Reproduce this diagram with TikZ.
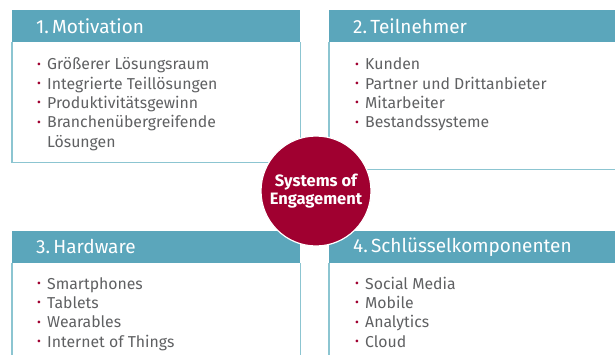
\documentclass[tikz,border=0pt]{standalone}
\usepackage{fontspec}
\setmainfont{Fira Sans}
\usepackage{graphicx}
\usetikzlibrary{positioning}
\definecolor{headcolor}{RGB}{91,166,187}
\definecolor{framecolor}{RGB}{140,197,209}
\definecolor{corecolor}{RGB}{160,0,48}
\definecolor{itemcolor}{RGB}{95,96,98}
\newcommand{\listdot}{\makebox[10pt][l]{\textcolor{corecolor}{\raisebox{.2ex}{\scalebox{.75}{\textbullet}}}}}
\tikzset{
    % Header bars
    headnode/.style={
        fill=headcolor, text=white, anchor=north west,
        font=\fontsize{19}{22}\selectfont,
        minimum height=31.5pt, inner xsep=24pt, inner ysep=0pt,
        align=left
    },
    % Frames and lists
    framebox/.style={draw=framecolor, line width=1.2pt},
    listnode/.style={
        anchor=north west, inner sep=0pt, align=left, text=itemcolor,
        font=\fontsize{15.8}{19.4}\selectfont
    },
    % Centre circle
    corenode/.style={
        circle, fill=corecolor, draw=white, line width=1.2pt,
        minimum size=110pt, inner sep=0pt, text=white, align=center,
        font=\bfseries\fontsize{16.5}{17.5}\selectfont
    },
}
\begin{document}
\begin{tikzpicture}[x=1pt, y=-1pt]
\useasboundingbox (0,0) rectangle (615,354);

% Header bars
\node (mothead) [headnode, text width=240pt] at (12,10) {1.\,Motivation};
\node (teamhead) [headnode, text width=246pt] at (329,10) {2.\,Teilnehmer};
\node (hwhead) [headnode, text width=240pt] at (12,231) {3.\,Hardware};
\node (keyhead) [headnode, text width=246pt] at (329,231) {4.\,Schlüsselkomponenten};

% Frames
\draw[framebox] (mothead.south west) -- ++(0,120.2) -| (mothead.south east);
\draw[framebox] (teamhead.south west) -- ++(0,127.5) -- ++(300,0);
\draw[framebox] (hwhead.south west) -- ++(0,100);
\draw[framebox] (hwhead.south east) -- ++(0,100);
\draw[framebox] (keyhead.south west) -- ++(0,100);

% Lists
\node (motlist) [listnode, below right=14pt and 25pt of mothead.south west] {
    \strut\listdot Größerer Lösungsraum\\
    \listdot Integrierte Teillösungen\\
    \listdot Produktivitätsgewinn\\
    \listdot Branchenübergreifende\\
    \hspace*{10pt}Lösungen
};
\node (teamlist) [listnode, below right=14pt and 26pt of teamhead.south west] {
    \strut\listdot Kunden\\
    \listdot Partner und Drittanbieter\\
    \listdot Mitarbeiter\\
    \listdot Bestandssysteme
};
\node (hwlist) [listnode, below right=12.5pt and 25pt of hwhead.south west] {
    \strut\listdot Smartphones\\
    \listdot Tablets\\
    \listdot Wearables\\
    \listdot Internet of Things
};
\node (keylist) [listnode, below right=12.5pt and 26pt of keyhead.south west] {
    \strut\listdot Social Media\\
    \listdot Mobile\\
    \listdot Analytics\\
    \listdot Cloud
};

% Centre
\node (core) [corenode] at (316,191) {Systems of\\Engagement};

\end{tikzpicture}
\end{document}
